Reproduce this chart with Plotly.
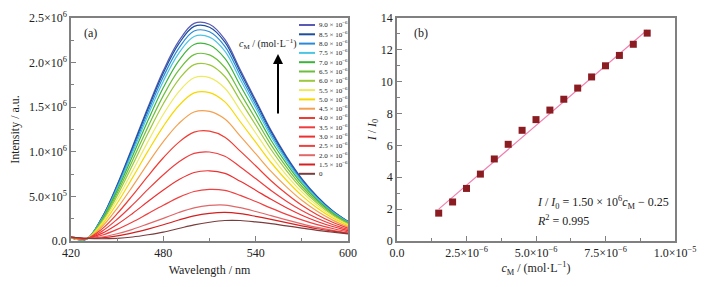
import plotly.graph_objects as go

# ---------------- data: panel (a) fluorescence spectra (intensity in units of 10^6) ----------------
wavelength_nm = [420, 430, 440, 450, 460, 470, 480, 490, 500, 510, 520, 530, 540, 550, 560, 570, 580, 590, 600]

intensity_9p0 = [.035, .020, .260, .630, 1.060, 1.500, 1.910, 2.240, 2.440, 2.430, 2.260, 1.920, 1.580, 1.240, .950, .700, .500, .340, .220]
intensity_8p5 = [.035, .020, .256, .621, 1.045, 1.479, 1.883, 2.209, 2.406, 2.397, 2.230, 1.895, 1.560, 1.224, .938, .692, .494, .336, .218]
intensity_8p0 = [.035, .020, .251, .607, 1.021, 1.446, 1.841, 2.160, 2.354, 2.346, 2.183, 1.856, 1.528, 1.200, .920, .679, .486, .331, .215]
intensity_7p5 = [.036, .021, .245, .591, .994, 1.407, 1.792, 2.104, 2.293, 2.286, 2.128, 1.810, 1.491, 1.172, .899, .664, .475, .324, .211]
intensity_7p0 = [.036, .021, .235, .567, .953, 1.350, 1.720, 2.020, 2.203, 2.197, 2.047, 1.743, 1.437, 1.130, .868, .642, .460, .315, .205]
intensity_6p5 = [.037, .022, .224, .537, .903, 1.278, 1.630, 1.915, 2.090, 2.086, 1.945, 1.658, 1.368, 1.078, .829, .614, .441, .303, .198]
intensity_6p0 = [.037, .022, .212, .507, .852, 1.207, 1.539, 1.810, 1.977, 1.975, 1.844, 1.574, 1.300, 1.026, .790, .586, .422, .291, .191]
intensity_5p5 = [.038, .023, .197, .468, .786, 1.114, 1.421, 1.673, 1.830, 1.831, 1.712, 1.464, 1.211, .958, .739, .550, .397, .275, .182]
intensity_5p0 = [.038, .023, .179, .423, .710, 1.007, 1.286, 1.516, 1.660, 1.664, 1.560, 1.337, 1.109, .880, .681, .509, .369, .257, .172]
intensity_4p5 = [.039, .024, .157, .366, .613, .871, 1.114, 1.316, 1.446, 1.453, 1.367, 1.176, .979, .780, .607, .456, .333, .234, .158]
intensity_4p0 = [.040, .025, .133, .306, .512, .728, .933, 1.106, 1.220, 1.231, 1.164, 1.007, .843, .676, .529, .400, .295, .210, .144]
intensity_3p5 = [.041, .026, .108, .243, .405, .578, .743, .886, .982, .998, .951, .830, .700, .566, .447, .342, .255, .185, .130]
intensity_3p0 = [.042, .027, .086, .186, .309, .442, .571, .686, .768, .787, .758, .669, .570, .467, .373, .289, .219, .162, .116]
intensity_2p5 = [.043, .028, .064, .130, .213, .307, .400, .489, .555, .579, .567, .511, .442, .368, .299, .237, .183, .140, .103]
intensity_2p0 = [.044, .029, .045, .081, .131, .192, .254, .319, .372, .399, .403, .374, .331, .284, .236, .192, .152, .120, .092]
intensity_1p5 = [.045, .030, .036, .057, .091, .134, .182, .235, .282, .310, .321, .306, .276, .242, .205, .170, .137, .111, .086]
intensity_0 = [.045, .030, .025, .030, .045, .070, .100, .140, .180, .210, .230, .230, .215, .195, .170, .145, .120, .100, .080]

legend_labels = ["9.0 × 10<sup>−6</sup>", "8.5 × 10<sup>−6</sup>", "8.0 × 10<sup>−6</sup>", "7.5 × 10<sup>−6</sup>",
                 "7.0 × 10<sup>−6</sup>", "6.5 × 10<sup>−6</sup>", "6.0 × 10<sup>−6</sup>", "5.5 × 10<sup>−6</sup>",
                 "5.0 × 10<sup>−6</sup>", "4.5 × 10<sup>−6</sup>", "4.0 × 10<sup>−6</sup>", "3.5 × 10<sup>−6</sup>",
                 "3.0 × 10<sup>−6</sup>", "2.5 × 10<sup>−6</sup>", "2.0 × 10<sup>−6</sup>", "1.5 × 10<sup>−6</sup>", "0"]
curve_colors = ["#5a5ab4", "#1c4e9c", "#2a8ad8", "#4cc4e4", "#3cb43c", "#6cbf3c", "#9cc83c", "#eeea60",
                "#f8d800", "#f4a050", "#f03c32", "#f03c3c", "#ee3030", "#f04040", "#e06868", "#d42020", "#7a3c3c"]
spectra = [intensity_9p0, intensity_8p5, intensity_8p0, intensity_7p5, intensity_7p0, intensity_6p5,
           intensity_6p0, intensity_5p5, intensity_5p0, intensity_4p5, intensity_4p0, intensity_3p5,
           intensity_3p0, intensity_2p5, intensity_2p0, intensity_1p5, intensity_0]

left_ytick_vals = [0, 0.5, 1.0, 1.5, 2.0, 2.5]
left_ytick_text = ["0.0", "5.0×10<sup>5</sup>", "1.0×10<sup>6</sup>", "1.5×10<sup>6</sup>", "2.0×10<sup>6</sup>", "2.5×10<sup>6</sup>"]
left_xtick_vals = [420, 480, 540, 600]

# ---------------- data: panel (b) I/I0 vs concentration ----------------
conc_M = [1.5e-6, 2.0e-6, 2.5e-6, 3.0e-6, 3.5e-6, 4.0e-6, 4.5e-6, 5.0e-6,
          5.5e-6, 6.0e-6, 6.5e-6, 7.0e-6, 7.5e-6, 8.0e-6, 8.5e-6, 9.0e-6]
ratio_I_I0 = [1.75, 2.45, 3.30, 4.20, 5.15, 6.07, 6.95, 7.62, 8.22, 8.90, 9.60, 10.30, 11.00, 11.65, 12.35, 13.05]
fit_slope = 1.50e6
fit_intercept = -0.25
right_xtick_vals = [0, 2.5e-6, 5.0e-6, 7.5e-6, 1.0e-5]
right_xtick_text = ["0.0", "2.5×10<sup>−6</sup>", "5.0×10<sup>−6</sup>", "7.5×10<sup>−6</sup>", "1.0×10<sup>−5</sup>"]

# ---------------- figure ----------------
# the page body has an 8 px margin, so the figure is drawn 8 px smaller and positions are given
# in reference (window) pixels, converted with the offset below
OFF = 8
W, H = 715 - OFF, 287 - OFF
MT, MB = 18 - OFF, 46
FONT = "Liberation Serif"
AXC = "#808080"


def px_x(x):
    return (x - OFF) / W


def px_y(y):
    return (H - MB - (y - OFF)) / (H - MT - MB)


fig = go.Figure()

for ys, col, lab in zip(spectra, curve_colors, legend_labels):
    fig.add_trace(go.Scatter(x=wavelength_nm, y=ys, mode="lines", line=dict(color=col, width=1.2, shape="spline"),
                             name=lab, showlegend=False, xaxis="x", yaxis="y"))

fit_x = [conc_M[0], conc_M[-1]]
fit_y = [fit_slope * v + fit_intercept for v in fit_x]
fig.add_trace(go.Scatter(x=fit_x, y=fit_y, mode="lines", line=dict(color="#f07fb0", width=1.2),
                         showlegend=False, xaxis="x2", yaxis="y2"))
fig.add_trace(go.Scatter(x=conc_M, y=ratio_I_I0, mode="markers",
                         marker=dict(symbol="square", size=7, color="#8b1c22"),
                         showlegend=False, xaxis="x2", yaxis="y2"))

axis_common = dict(showline=True, linecolor=AXC, linewidth=1.5, mirror=True, ticks="inside", ticklen=5,
                   tickcolor=AXC, tickwidth=1, showgrid=False, zeroline=False, automargin=False,
                   tickfont=dict(family=FONT, size=12, color="#222"))

fig.update_layout(
    width=W, height=H,
    margin=dict(l=0, r=0, t=MT, b=MB),
    paper_bgcolor="white", plot_bgcolor="white",
    font=dict(family=FONT, color="#222"),
    xaxis=dict(domain=[px_x(71), px_x(348)], range=[420, 600], tickvals=left_xtick_vals,
               minor=dict(dtick=30, tick0=420, ticks="inside", ticklen=3, tickcolor=AXC),
               title=dict(text="Wavelength / nm", font=dict(family=FONT, size=12), standoff=6),
               anchor="y", **axis_common),
    yaxis=dict(domain=[0, 1], range=[0, 2.5], tickvals=left_ytick_vals, ticktext=left_ytick_text,
               minor=dict(dtick=0.25, tick0=0, ticks="inside", ticklen=3, tickcolor=AXC),
               title=dict(text="Intensity / a.u.", font=dict(family=FONT, size=12), standoff=7),
               anchor="x", **axis_common),
    xaxis2=dict(domain=[px_x(397), px_x(675)], range=[0, 1.0e-5], tickvals=right_xtick_vals, ticktext=right_xtick_text,
                minor=dict(dtick=1.25e-6, tick0=0, ticks="inside", ticklen=3, tickcolor=AXC),
                title=dict(text="<i>c</i><sub>M</sub> / (mol·L<sup>−1</sup>)", font=dict(family=FONT, size=12), standoff=4),
                anchor="y2", **axis_common),
    yaxis2=dict(domain=[0, 1], range=[0, 14], dtick=2,
                minor=dict(dtick=1, tick0=0, ticks="inside", ticklen=3, tickcolor=AXC),
                title=dict(text="<i>I</i> / <i>I</i><sub>0</sub>", font=dict(family=FONT, size=12), standoff=2),
                anchor="x2", **axis_common),
)

shapes = []
annotations = []
# manual legend for panel (a)
for i, (col, lab) in enumerate(zip(curve_colors, legend_labels)):
    yy = px_y(25 + i * 9.3)
    shapes.append(dict(type="line", xref="paper", yref="paper", x0=px_x(299), x1=px_x(315), y0=yy, y1=yy,
                       line=dict(color=col, width=2)))
    annotations.append(dict(xref="paper", yref="paper", x=px_x(317), y=yy, xanchor="left", yanchor="middle",
                            text=lab, showarrow=False, font=dict(family=FONT, size=7, color="#222")))

# arrow and concentration label
annotations.append(dict(xref="paper", yref="paper", x=px_x(278), y=px_y(54), ax=0, ay=61, axref="pixel", ayref="pixel",
                        text="", showarrow=True, arrowhead=2, arrowsize=1, arrowwidth=2, arrowcolor="black"))
annotations.append(dict(xref="paper", yref="paper", x=px_x(268), y=px_y(44), xanchor="center", yanchor="middle",
                        text="<i>c</i><sub>M</sub> / (mol·L<sup>−1</sup>)", showarrow=False,
                        font=dict(family=FONT, size=10, color="#222")))
annotations.append(dict(xref="paper", yref="paper", x=px_x(82), y=px_y(33), xanchor="left", yanchor="middle",
                        text="(a)", showarrow=False, font=dict(family=FONT, size=12, color="#222")))
annotations.append(dict(xref="paper", yref="paper", x=px_x(412), y=px_y(33), xanchor="left", yanchor="middle",
                        text="(b)", showarrow=False, font=dict(family=FONT, size=12, color="#222")))
annotations.append(dict(xref="paper", yref="paper", x=px_x(535), y=px_y(202), xanchor="left", yanchor="middle",
                        text="<i>I</i> / <i>I</i><sub>0</sub> = 1.50 × 10<sup>6</sup><i>c</i><sub>M</sub> − 0.25",
                        showarrow=False, font=dict(family=FONT, size=12, color="#222")))
annotations.append(dict(xref="paper", yref="paper", x=px_x(535), y=px_y(220), xanchor="left", yanchor="middle",
                        text="<i>R</i><sup>2</sup> = 0.995", showarrow=False, font=dict(family=FONT, size=12, color="#222")))

fig.update_layout(shapes=shapes, annotations=annotations)

fig.write_html("out.html")
